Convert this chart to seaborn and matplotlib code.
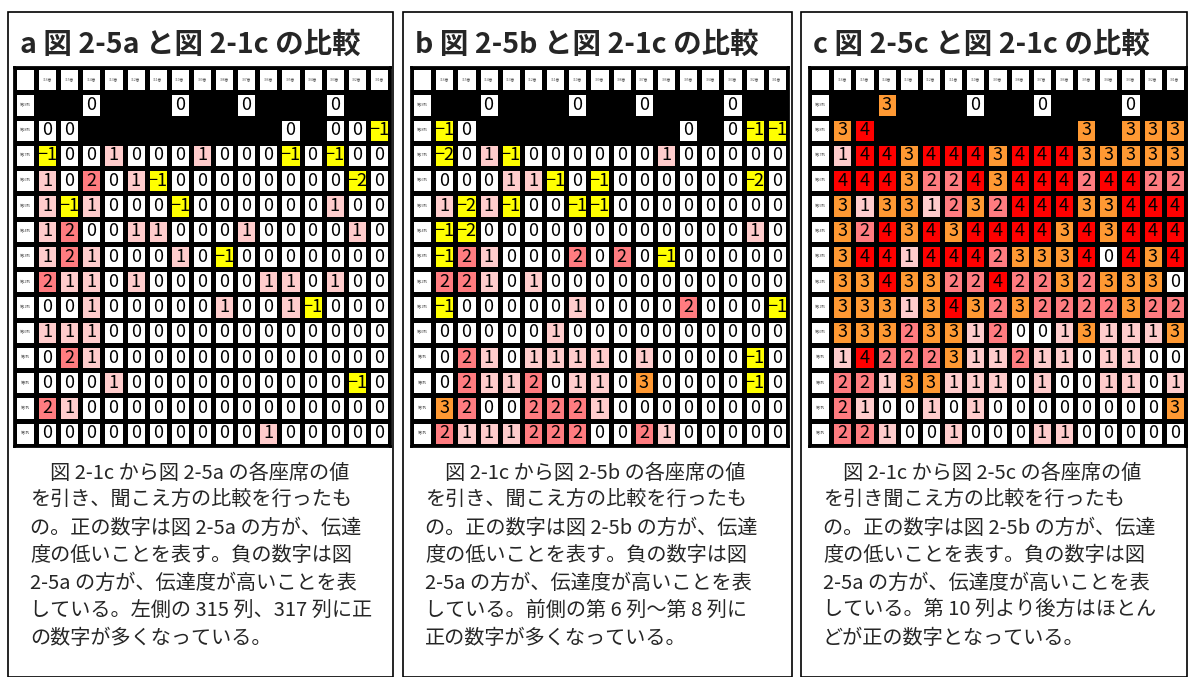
import numpy as np
import pandas as pd
import seaborn as sns
import matplotlib.pyplot as plt
from matplotlib.colors import ListedColormap, BoundaryNorm
from matplotlib.patches import Rectangle

sns.set_style("white")
plt.rcParams['font.family'] = ['Noto Sans CJK JP', 'DejaVu Sans']

B = np.nan  # no seat

row_labels = ["第19列", "第18列", "第17列", "第16列", "第15列", "第14列", "第13列",
              "第12列", "第11列", "第10列", "第9列", "第8列", "第7列", "第6列"]
col_labels = ["316番", "315番", "314番", "313番", "312番", "311番", "310番", "309番",
              "308番", "307番", "306番", "305番", "304番", "303番", "302番", "301番"]

diff_a = [
    [B, B, 0, B, B, B, 0, B, B, 0, B, B, B, 0, B, B],
    [0, 0, B, B, B, B, B, B, B, B, B, 0, B, 0, 0, -1],
    [-1, 0, 0, 1, 0, 0, 0, 1, 0, 0, 0, -1, 0, -1, 0, 0],
    [1, 0, 2, 0, 1, -1, 0, 0, 0, 0, 0, 0, 0, 0, -2, 0],
    [1, -1, 1, 0, 0, 0, -1, 0, 0, 0, 0, 0, 0, 1, 0, 0],
    [1, 2, 0, 0, 1, 1, 0, 0, 0, 1, 0, 0, 0, 0, 1, 0],
    [1, 2, 1, 0, 0, 0, 1, 0, -1, 0, 0, 0, 0, 0, 0, 0],
    [2, 1, 1, 0, 1, 0, 0, 0, 0, 0, 1, 1, 0, 1, 0, 0],
    [0, 0, 1, 0, 0, 0, 0, 0, 1, 0, 0, 1, -1, 0, 0, 0],
    [1, 1, 1, 0, 0, 0, 0, 0, 0, 0, 0, 0, 0, 0, 0, 0],
    [0, 2, 1, 0, 0, 0, 0, 0, 0, 0, 0, 0, 0, 0, 0, 0],
    [0, 0, 0, 1, 0, 0, 0, 0, 0, 0, 0, 0, 0, 0, -1, 0],
    [2, 1, 0, 0, 0, 0, 0, 0, 0, 0, 0, 0, 0, 0, 0, 0],
    [0, 0, 0, 0, 0, 0, 0, 0, 0, 0, 1, 0, 0, 0, 0, 0],
]

diff_b = [
    [B, B, 0, B, B, B, 0, B, B, 0, B, B, B, 0, B, B],
    [-1, 0, B, B, B, B, B, B, B, B, B, 0, B, 0, -1, -1],
    [-2, 0, 1, -1, 0, 0, 0, 0, 0, 0, 1, 0, 0, 0, 0, 0],
    [0, 0, 0, 1, 1, -1, 0, -1, 0, 0, 0, 0, 0, 0, -2, 0],
    [1, -2, 1, -1, 0, 0, -1, -1, 0, 0, 0, 0, 0, 0, 0, 0],
    [-1, -2, 0, 0, 0, 0, 0, 0, 0, 0, 0, 0, 0, 0, 1, 0],
    [-1, 2, 1, 0, 0, 0, 2, 0, 2, 0, -1, 0, 0, 0, 0, 0],
    [2, 2, 1, 0, 1, 0, 0, 0, 0, 0, 0, 0, 0, 0, 0, 0],
    [-1, 0, 0, 0, 0, 0, 1, 0, 0, 0, 0, 2, 0, 0, 0, -1],
    [0, 0, 0, 0, 0, 1, 0, 0, 0, 0, 0, 0, 0, 0, 0, 0],
    [0, 2, 1, 0, 1, 1, 1, 1, 0, 1, 0, 0, 0, 0, -1, 0],
    [0, 2, 1, 1, 2, 0, 1, 1, 0, 3, 0, 0, 0, 0, -1, 0],
    [3, 2, 0, 0, 2, 2, 2, 1, 0, 0, 0, 0, 0, 0, 0, 0],
    [2, 1, 1, 1, 2, 2, 2, 0, 0, 2, 1, 0, 0, 0, 0, 0],
]

diff_c = [
    [B, B, 3, B, B, B, 0, B, B, 0, B, B, B, 0, B, B],
    [3, 4, B, B, B, B, B, B, B, B, B, 3, B, 3, 3, 3],
    [1, 4, 4, 3, 4, 4, 4, 3, 4, 4, 4, 3, 3, 3, 3, 3],
    [4, 4, 4, 3, 2, 2, 4, 3, 4, 4, 4, 2, 4, 4, 2, 2],
    [3, 1, 3, 3, 1, 2, 3, 2, 4, 4, 4, 3, 3, 4, 4, 4],
    [3, 2, 4, 3, 4, 3, 4, 4, 4, 4, 3, 4, 3, 4, 4, 4],
    [3, 4, 4, 1, 4, 4, 4, 2, 3, 3, 3, 4, 0, 4, 3, 4],
    [3, 3, 4, 3, 3, 2, 2, 4, 2, 2, 3, 2, 3, 3, 3, 0],
    [3, 3, 3, 1, 3, 4, 3, 2, 3, 2, 2, 2, 2, 3, 2, 2],
    [3, 3, 3, 2, 3, 3, 1, 2, 0, 0, 1, 3, 1, 1, 1, 3],
    [1, 4, 2, 2, 2, 3, 1, 1, 2, 1, 1, 0, 1, 1, 0, 0],
    [2, 2, 1, 3, 3, 1, 1, 1, 0, 1, 0, 0, 1, 1, 0, 1],
    [2, 1, 0, 0, 1, 0, 1, 0, 0, 0, 0, 0, 0, 0, 0, 3],
    [2, 2, 1, 0, 0, 1, 0, 0, 0, 1, 1, 0, 0, 0, 0, 0],
]

titles = ["a 図 2-5a と図 2-1c の比較",
          "b 図 2-5b と図 2-1c の比較",
          "c 図 2-5c と図 2-1c の比較"]

notes = [
    ["\u3000図 2-1c から図 2-5a の各座席の値",
     "を引き、聞こえ方の比較を行ったも",
     "の。正の数字は図 2-5a の方が、伝達",
     "度の低いことを表す。負の数字は図",
     "2-5a の方が、伝達度が高いことを表",
     "している。左側の 315 列、317 列に正",
     "の数字が多くなっている。"],
    ["\u3000図 2-1c から図 2-5b の各座席の値",
     "を引き、聞こえ方の比較を行ったも",
     "の。正の数字は図 2-5b の方が、伝達",
     "度の低いことを表す。負の数字は図",
     "2-5a の方が、伝達度が高いことを表",
     "している。前側の第 6 列～第 8 列に",
     "正の数字が多くなっている。"],
    ["\u3000図 2-1c から図 2-5c の各座席の値",
     "を引き聞こえ方の比較を行ったも",
     "の。正の数字は図 2-5b の方が、伝達",
     "度の低いことを表す。負の数字は図",
     "2-5a の方が、伝達度が高いことを表",
     "している。第 10 列より後方はほとん",
     "どが正の数字となっている。"],
]

# value -> colour (-2..4)
cmap = ListedColormap(["#FFFF00", "#FFFF00", "#FFFFFF", "#FFCCCC",
                       "#FF7C80", "#FF9933", "#FF0000"])
norm = BoundaryNorm(np.arange(-2.5, 5.5, 1), cmap.N)

W, H = 1188, 677
fig = plt.figure(figsize=(W / 100, H / 100), dpi=100)

boxes = [(8, 393), (403, 792), (801, 1187)]
grids = [(14, 390), (411, 788), (809, 1186)]
grid_top, grid_bot = 67, 446

for k, data in enumerate([diff_a, diff_b, diff_c]):
    vals = pd.DataFrame(data, index=row_labels, columns=col_labels)

    # full table incl. header row / label column (white cells)
    full = np.zeros((len(row_labels) + 1, len(col_labels) + 1))
    full[1:, 1:] = vals.values
    annot = np.full(full.shape, "", dtype=object)
    annot[0, 1:] = col_labels
    annot[1:, 0] = row_labels
    for i in range(vals.shape[0]):
        for j in range(vals.shape[1]):
            v = vals.iat[i, j]
            if not np.isnan(v):
                annot[i + 1, j + 1] = f"{int(v)}".replace("-", "\u2212")

    bx0, bx1 = boxes[k]
    fig.add_artist(Rectangle((bx0 / W, 0), (bx1 - bx0) / W, 1 - 12 / H,
                             transform=fig.transFigure, fill=False,
                             ec="black", lw=1.2))

    gx0, gx1 = grids[k]
    ax = fig.add_axes([gx0 / W, 1 - grid_bot / H, (gx1 - gx0) / W,
                       (grid_bot - grid_top) / H])
    ax.set_facecolor("black")
    sns.heatmap(full, mask=np.isnan(full), cmap=cmap, norm=norm, cbar=False,
                annot=annot, fmt="", linewidths=2.2, linecolor="black",
                annot_kws={"color": "black", "fontsize": 13}, ax=ax)
    for t in ax.texts:
        x, y = t.get_position()
        if x < 1 or y < 1:
            t.set_fontsize(2.5)
            t.set_color("#555555")
    ax.set_xticks([])
    ax.set_yticks([])
    for s in ax.spines.values():
        s.set_visible(True)
        s.set_linewidth(2)
        s.set_color("black")

    fig.text((bx0 + 12) / W, 1 - 45 / H, titles[k], fontsize=20.5,
             weight="bold", va="center", ha="left")
    for n, line in enumerate(notes[k]):
        fig.text((bx0 + 22) / W, 1 - (473 + n * 27.5) / H, line,
                 fontsize=14.5, va="center", ha="left")

fig.savefig("out.png", dpi=100)
